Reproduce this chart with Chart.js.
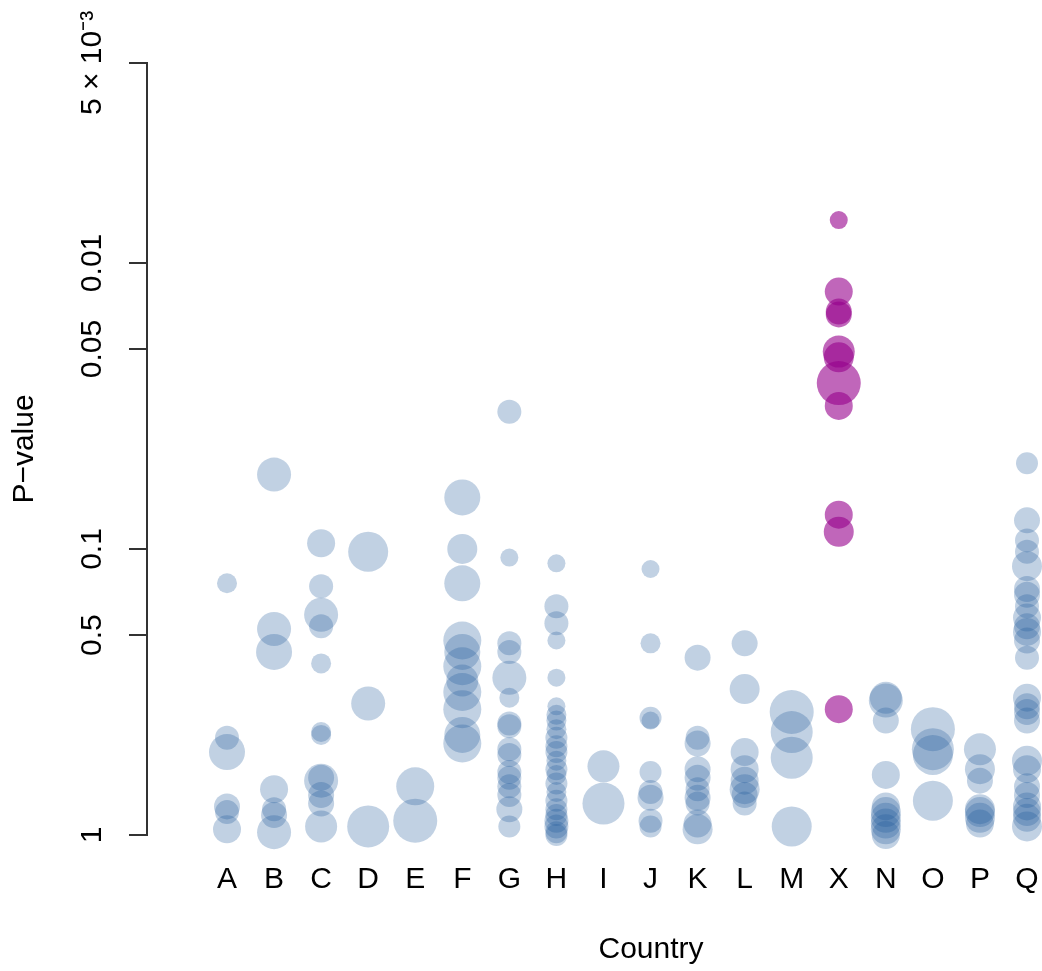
<!DOCTYPE html>
<html>
<head>
<meta charset="utf-8">
<title>P-value by country</title>
<script src="https://cdn.jsdelivr.net/npm/chart.js@4.4.1/dist/chart.umd.min.js"></script>
<style>
    html, body { margin: 0; padding: 0; overflow: hidden; background: #fff; }
    #wrap { width: 1177px; height: 971px; }
</style>
</head>
<body>
<div id="wrap"><canvas id="myChart"></canvas></div>
<script>
const categories = ['A', 'B', 'C', 'D', 'E', 'F', 'G', 'H', 'I', 'J', 'K', 'L', 'M', 'X', 'N', 'O', 'P', 'Q'];
const highlighted = 'X';

// y axis tick positions and the labels printed at them
const tickValues = [0, 0.699, 1, 1.699, 2, 2.699];
const tickLabels = ['1', '0.5', '0.1', '0.05', '0.01', '5 × 10⁻³'];

// one list per country (same order as categories)
const scores = [
    [0.88, 0.34, 0.29, 0.10, 0.08, 0.02],
    [1.26, 0.72, 0.64, 0.16, 0.09, 0.07, 0.01],
    [1.02, 0.87, 0.77, 0.73, 0.60, 0.36, 0.35, 0.20, 0.19, 0.14, 0.11, 0.03],
    [0.99, 0.46, 0.03],
    [0.17, 0.05],
    [1.18, 1.00, 0.88, 0.68, 0.64, 0.59, 0.54, 0.50, 0.44, 0.35, 0.32],
    [1.48, 0.97, 0.67, 0.64, 0.55, 0.48, 0.39, 0.38, 0.30, 0.28, 0.22, 0.20, 0.17, 0.14, 0.09, 0.03],
    [0.95, 0.80, 0.74, 0.68, 0.55, 0.45, 0.42, 0.40, 0.37, 0.34, 0.31, 0.29, 0.26, 0.23, 0.21, 0.18, 0.15, 0.12, 0.09, 0.07, 0.05, 0.03, 0.01, 0.00],
    [0.24, 0.11],
    [0.93, 0.67, 0.41, 0.40, 0.22, 0.15, 0.13, 0.05, 0.03],
    [0.62, 0.34, 0.32, 0.23, 0.20, 0.16, 0.13, 0.11, 0.04, 0.02],
    [0.67, 0.51, 0.29, 0.23, 0.19, 0.16, 0.14, 0.11],
    [0.43, 0.36, 0.27, 0.03],
    [2.15, 1.90, 1.83, 1.82, 1.69, 1.67, 1.58, 1.50, 1.12, 1.06, 0.44],
    [0.48, 0.47, 0.40, 0.21, 0.10, 0.08, 0.06, 0.04, 0.02, 0.00],
    [0.37, 0.30, 0.28, 0.12],
    [0.30, 0.23, 0.19, 0.09, 0.08, 0.06, 0.04],
    [1.30, 1.10, 1.03, 0.99, 0.94, 0.86, 0.84, 0.80, 0.76, 0.73, 0.71, 0.68, 0.62, 0.48, 0.45, 0.43, 0.40, 0.26, 0.23, 0.17, 0.14, 0.10, 0.08, 0.06, 0.03]
];

// bubble radius for each point above
const radii = [
    [10, 12, 18, 13, 12, 14],
    [17, 17, 18, 14, 12, 13, 17],
    [14, 12, 17, 12, 10, 10, 10, 13, 17, 13, 13, 16],
    [20, 17, 21],
    [19, 22],
    [18, 15, 18, 19, 18, 19, 16, 19, 19, 18, 19],
    [12, 9, 12, 12, 17, 10, 12, 12, 12, 12, 12, 12, 12, 12, 13, 11],
    [9, 12, 12, 9, 9, 9, 10, 10, 10, 11, 11, 11, 10, 11, 10, 11, 10, 11, 11, 11, 12, 12, 11, 11],
    [16, 21],
    [9, 10, 11, 9, 11, 12, 13, 12, 11],
    [13, 12, 13, 13, 13, 12, 13, 12, 14, 15],
    [13, 15, 14, 14, 14, 15, 13, 12],
    [22, 21, 21, 20],
    [9, 14, 13, 13, 16, 15, 22, 14, 14, 15, 14],
    [16, 17, 13, 14, 14, 15, 15, 15, 15, 14],
    [22, 21, 20, 20],
    [16, 15, 13, 15, 15, 15, 14],
    [11, 13, 12, 12, 15, 13, 13, 12, 14, 13, 14, 13, 12, 14, 13, 13, 13, 15, 14, 13, 13, 14, 14, 14, 15]
];

const fontFamily = '"Liberation Sans", Arial, Helvetica, sans-serif';
const fontSize = 30;

let bluePoints = [];
let purplePoints = [];
categories.forEach((cat, i) => {
    scores[i].forEach((s, j) => {
        const pt = { x: i, y: s, r: radii[i][j] };
        if (cat === highlighted) {
            purplePoints.push(pt);
        } else {
            bluePoints.push(pt);
        }
    });
});

// rotated y labels are centred on the widest one, so work out the padding from it
const measure = document.createElement('canvas').getContext('2d');
measure.font = fontSize + 'px ' + fontFamily;
const widest = Math.max(...tickLabels.map(t => measure.measureText(t).width));
const yLabelPadding = 36 - widest / 2;

const ctx = document.getElementById('myChart');

const myChart = new Chart(ctx, {
    type: 'bubble',
    data: {
        datasets: [{
            label: 'Other countries',
            data: bluePoints,
            backgroundColor: 'rgba(25, 85, 150, 0.27)',
            borderWidth: 0,
            clip: false
        }, {
            label: highlighted,
            data: purplePoints,
            backgroundColor: 'rgba(150, 0, 140, 0.6)',
            borderWidth: 0,
            clip: false
        }]
    },
    options: {
        responsive: true,
        maintainAspectRatio: false,
        animation: false,
        layout: {
            padding: { top: 63, right: 5, bottom: 0, left: 0 }
        },
        plugins: {
            legend: { display: false },
            tooltip: { enabled: false }
        },
        scales: {
            x: {
                type: 'linear',
                min: -1.7,
                max: 19.72,
                afterBuildTicks: scale => {
                    scale.ticks = categories.map((c, i) => ({ value: i }));
                },
                afterFit: scale => {
                    scale.height = 136;
                    scale.paddingLeft = 0;
                    scale.paddingRight = 0;
                },
                grid: { display: false, drawTicks: false },
                border: { display: false },
                ticks: {
                    autoSkip: false,
                    maxRotation: 0,
                    padding: 27,
                    color: '#000',
                    font: { family: fontFamily, size: fontSize },
                    callback: value => categories[value]
                },
                title: {
                    display: true,
                    text: 'Country',
                    color: '#000',
                    font: { family: fontFamily, size: fontSize },
                    padding: { top: 0, bottom: 3 }
                }
            },
            y: {
                type: 'linear',
                min: 0,
                max: 2.699,
                afterBuildTicks: scale => {
                    scale.ticks = tickValues.map(v => ({ value: v }));
                },
                afterFit: scale => { scale.width = 147; },
                grid: {
                    drawOnChartArea: false,
                    drawTicks: true,
                    tickLength: 18,
                    color: '#333',
                    lineWidth: 2
                },
                border: { display: true, color: '#333', width: 2 },
                ticks: {
                    minRotation: 90,
                    maxRotation: 90,
                    crossAlign: 'center',
                    padding: yLabelPadding,
                    color: '#000',
                    font: { family: fontFamily, size: fontSize },
                    callback: (value, index) => tickLabels[index]
                },
                title: {
                    display: true,
                    text: 'P−value',
                    color: '#000',
                    font: { family: fontFamily, size: fontSize },
                    padding: { top: 7, bottom: 0 }
                }
            }
        }
    }
});
</script>
</body>
</html>
